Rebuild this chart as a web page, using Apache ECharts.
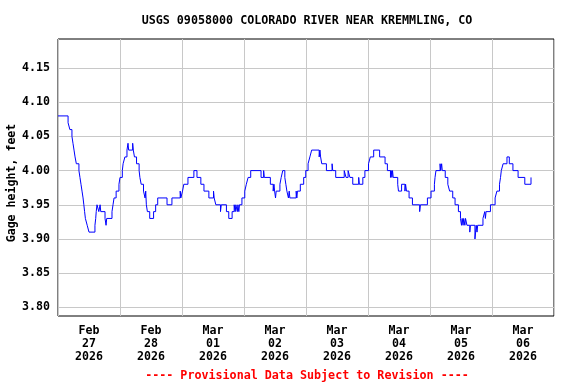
<!DOCTYPE html>
<html>
<head>
<meta charset="utf-8">
<script src="https://cdn.jsdelivr.net/npm/echarts@6/dist/echarts.min.js"></script>
<style>html,body{margin:0;padding:0;background:#fff}#c{width:576px;height:384px}</style>
</head>
<body>
<div id="c"></div>
<script>
// Hours since 2026-02-27 00:00 (local) at which the gage reading changes
const hours = [
  0,3.9,4.6,5.4,5.8,6.2,6.6,7.1,8.1,8.5,8.9,9.3,9.7,10.0,10.3,10.6,11.3,12.0,
  14.3,14.6,14.8,15.1,15.8,16.3,16.55,18.2,18.6,18.85,20.9,21.3,21.7,22.5,23.6,24.0,24.9,25.2,25.9,26.7,27.1,27.35,28.9,29.15,29.6,30.4,31.4,31.7,32.2,33.1,33.7,33.95,34.2,34.6,35.5,37.0,37.8,38.6,42.2,44.1,47.3,47.55,48.2,48.7,50.3,52.6,53.8,55.3,56.5,58.4,60.2,60.45,
  61.1,62.9,63.2,65.2,66.1,67.4,68.2,68.6,68.85,69.4,69.65,70.0,70.25,71.2,72.3,72.9,73.6,74.6,78.6,79.6,79.85,82.2,83.3,83.6,83.85,84.2,84.45,85.9,86.4,87.0,87.8,88.2,88.6,89.2,89.5,89.75,92.2,92.45,92.7,93.8,95.1,95.9,
  96.8,97.5,98.2,101.1,101.4,101.65,102.1,103.9,106.1,106.35,107.5,110.8,111.5,112.3,113.0,114.1,116.4,116.65,118.0,118.8,120.2,120.9,122.2,124.5,126.6,127.5,128.7,129.0,129.25,129.5,129.75,131.5,131.8,133.0,134.3,134.55,134.9,135.9,137.2,140.0,140.3,143.0,144.4,145.7,145.95,146.3,147.9,148.15,148.5,148.75,149.9,150.9,151.6,152.8,153.7,155.0,155.8,156.2,156.45,156.8,157.05,157.5,157.75,158.3,159.4,159.65,161.4,161.65,161.9,162.2,162.45,164.5,165.2,165.45,165.7,167.4,169.2,169.9,170.9,171.3,171.6,172.3,173.8,174.7,176.1,178.1,180.7,183.1
];
// Gage height, feet
const gage = [
  4.08,4.07,4.06,4.05,4.04,4.03,4.02,4.01,4.00,3.99,3.98,3.97,3.96,3.95,3.94,3.93,3.92,3.91,
  3.92,3.93,3.94,3.95,3.94,3.95,3.94,3.93,3.92,3.93,3.94,3.95,3.96,3.97,3.98,3.99,4.00,4.01,4.02,4.03,4.04,4.03,4.04,4.03,4.02,4.01,4.00,3.99,3.98,3.97,3.96,3.97,3.95,3.94,3.93,3.94,3.95,3.96,3.95,3.96,3.97,3.96,3.97,3.98,3.99,4.00,3.99,3.98,3.97,3.96,3.97,3.96,
  3.95,3.94,3.95,3.94,3.93,3.94,3.95,3.94,3.95,3.94,3.95,3.94,3.95,3.96,3.97,3.98,3.99,4.00,3.99,4.00,3.99,3.98,3.97,3.98,3.97,3.96,3.97,3.98,3.99,4.00,3.99,3.98,3.97,3.96,3.97,3.96,3.97,3.96,3.97,3.98,3.99,4.00,
  4.01,4.02,4.03,4.02,4.03,4.02,4.01,4.00,4.01,4.00,3.99,4.00,3.99,4.00,3.99,3.98,3.99,3.98,3.99,4.00,4.01,4.02,4.03,4.02,4.01,4.00,3.99,4.00,3.99,4.00,3.99,3.98,3.97,3.98,3.97,3.98,3.97,3.96,3.95,3.94,3.95,3.96,3.97,3.98,3.99,4.00,4.01,4.00,4.01,4.00,3.99,3.98,3.97,3.96,3.95,3.94,3.93,3.92,3.93,3.92,3.93,3.92,3.93,3.92,3.91,3.92,3.90,3.91,3.92,3.91,3.92,3.93,3.94,3.93,3.94,3.95,3.96,3.97,3.98,3.99,4.00,4.01,4.02,4.01,4.00,3.99,3.98,3.99
];
const dayMonths = ['Feb','Feb','Mar','Mar','Mar','Mar','Mar','Mar'];
const dayNums = ['27','28','01','02','03','04','05','06'];
const dayYears = ['2026','2026','2026','2026','2026','2026','2026','2026'];
const yTicks = [3.80,3.85,3.90,3.95,4.00,4.05,4.10,4.15];

const FONT = '"DejaVu Sans Mono", "Liberation Mono", monospace';
const dayLabels = dayMonths.map((m,i)=> m + '\n' + dayNums[i] + '\n' + dayYears[i]);
const seriesData = hours.map((h,i)=>[h, gage[i]]);

const chart = echarts.init(document.getElementById('c'), null, {renderer:'canvas'});
chart.setOption({
  animation: false,
  backgroundColor: '#fff',
  grid: {left: 58, right: 22, top: 39, bottom: 68, show: true, borderColor: '#000', borderWidth: 1, backgroundColor: 'transparent', containLabel: false, outerBoundsMode: 'none'},
  xAxis: [
    {type: 'value', min: 0, max: 192, interval: 24,
     axisLine: {show: false}, axisTick: {show: false}, axisLabel: {show: false},
     splitLine: {show: true, lineStyle: {color: '#c8c8c8', width: 1}}},
    {type: 'category', data: dayLabels, position: 'bottom', boundaryGap: true,
     axisLine: {show: false}, axisTick: {show: false}, splitLine: {show: false},
     axisLabel: {interval: 0, margin: 8, fontFamily: FONT, fontWeight: 'bold', fontSize: 11.6, lineHeight: 13.3, color: '#000'}}
  ],
  yAxis: {
    type: 'value', min: 3.7873, max: 4.1925,
    axisLine: {show: false},
    axisTick: {show: false, customValues: yTicks},
    axisLabel: {customValues: yTicks, margin: 8, padding: [2, 0, 0, 0], fontFamily: FONT, fontWeight: 'bold', fontSize: 11.6, color: '#000',
                formatter: v => v.toFixed(2)},
    splitLine: {show: true, lineStyle: {color: '#c8c8c8', width: 1}}
  },
  series: [{
    type: 'line', xAxisIndex: 0, yAxisIndex: 0, data: seriesData, step: 'end',
    showSymbol: false, symbol: 'none', lineStyle: {color: '#0000ff', width: 1}, silent: true
  }],
  graphic: [
    {type: 'text', x: 307, y: 21, style: {text: 'USGS 09058000 COLORADO RIVER NEAR KREMMLING, CO', fill: '#000', font: 'bold 11.7px ' + FONT, textAlign: 'center', textVerticalAlign: 'middle'}},
    {type: 'text', x: 307, y: 375.5, style: {text: '---- Provisional Data Subject to Revision ----', fill: '#ff0000', font: 'bold 11.7px ' + FONT, textAlign: 'center', textVerticalAlign: 'middle'}},
    {type: 'text', x: 11.5, y: 183, rotation: Math.PI/2, style: {text: 'Gage height, feet', fill: '#000', font: 'bold 11.6px ' + FONT, textAlign: 'center', textVerticalAlign: 'middle'}}
  ]
});
</script>
</body>
</html>
